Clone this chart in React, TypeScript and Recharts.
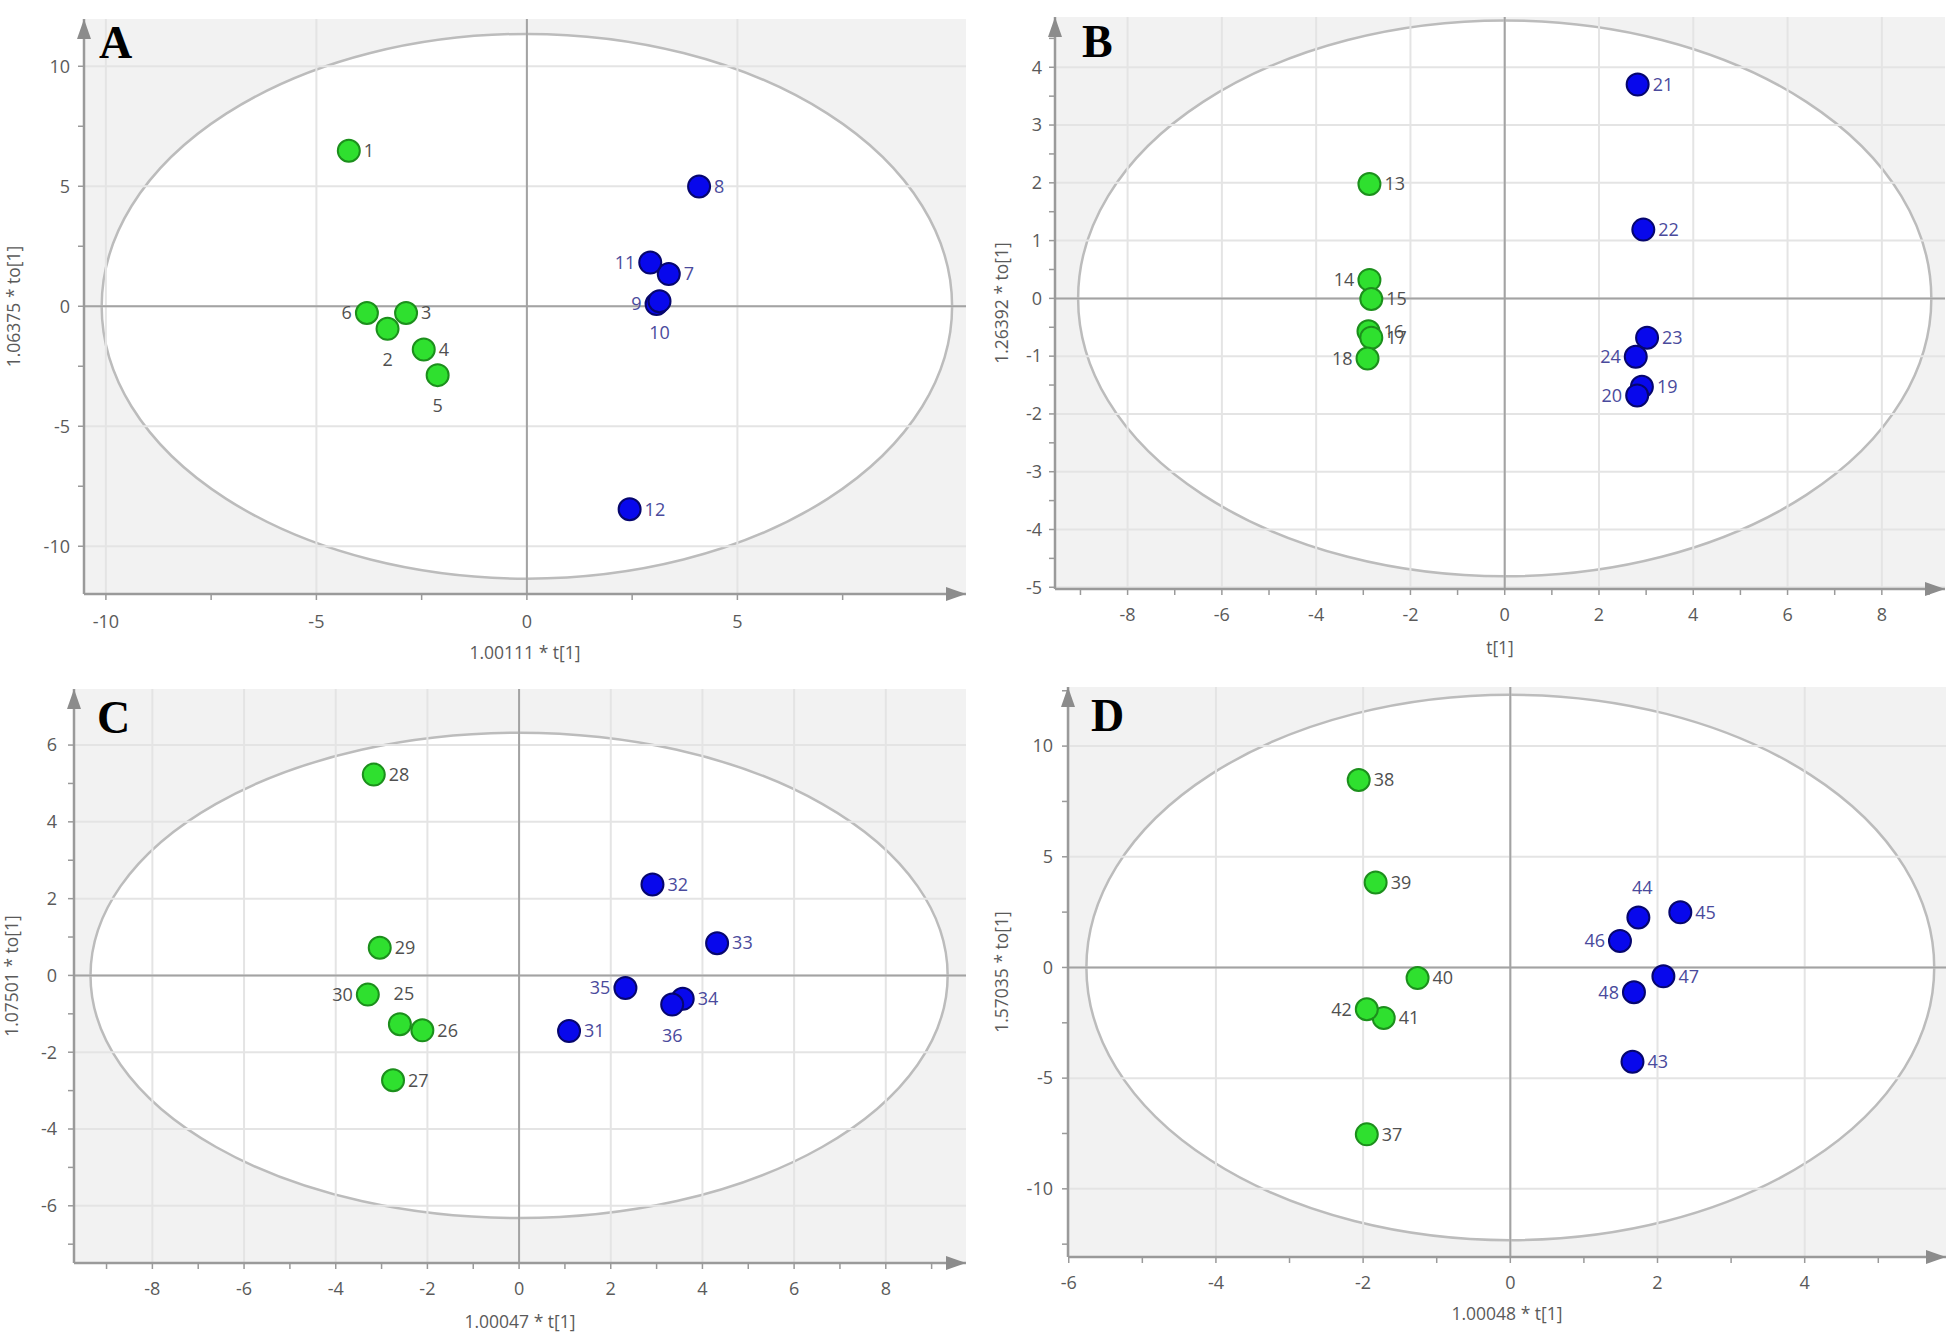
import React from 'react';
import { ScatterChart, Scatter, XAxis, YAxis, ReferenceArea, ReferenceLine, ReferenceDot } from 'recharts';

const FONT = '"Open Sans", "Noto Sans", sans-serif';

// ---------- Panel A ----------
const aLabels = ['1', '2', '3', '4', '5', '6', '7', '8', '9', '10', '11', '12'];
const aT = [-4.23, -3.31, -2.87, -2.45, -2.12, -3.8, 3.37, 4.09, 3.08, 3.15, 2.93, 2.44];
const aTo = [6.48, -0.94, -0.28, -1.8, -2.87, -0.28, 1.34, 4.99, 0.09, 0.21, 1.82, -8.46];
const aGroups = ['g', 'g', 'g', 'g', 'g', 'g', 'b', 'b', 'b', 'b', 'b', 'b'];
const aSides = ['r', 'b', 'r', 'r', 'b', 'l', 'r', 'r', 'l', 'b', 'l', 'r'];
const aXMajor = [-10, -5, 0, 5];
const aXMinor = [-7.5, -2.5, 2.5, 7.5];
const aYMajor = [-10, -5, 0, 5, 10];
const aYMinor = [-7.5, -2.5, 2.5, 7.5];
const aXDomain = [-10.52, 10.43];
const aYDomain = [-11.99, 11.97];
const aEllipse = [10.1, 11.35];
const aXTitle = '1.00111 * t[1]';
const aYTitle = '1.06375 * to[1]';

// ---------- Panel B ----------
const bLabels = ['13', '14', '15', '16', '17', '18', '19', '20', '21', '22', '23', '24'];
const bT = [-2.87, -2.87, -2.83, -2.89, -2.83, -2.91, 2.91, 2.81, 2.82, 2.94, 3.02, 2.78];
const bTo = [1.98, 0.32, -0.01, -0.57, -0.68, -1.04, -1.53, -1.68, 3.7, 1.19, -0.68, -1.01];
const bGroups = ['g', 'g', 'g', 'g', 'g', 'g', 'b', 'b', 'b', 'b', 'b', 'b'];
const bSides = ['r', 'l', 'r', 'r', 'r', 'l', 'r', 'l', 'r', 'r', 'r', 'l'];
const bXMajor = [-8, -6, -4, -2, 0, 2, 4, 6, 8];
const bXMinor = [-9, -7, -5, -3, -1, 1, 3, 5, 7, 9];
const bYMajor = [-5, -4, -3, -2, -1, 0, 1, 2, 3, 4];
const bYMinor = [-4.5, -3.5, -2.5, -1.5, -0.5, 0.5, 1.5, 2.5, 3.5, 4.5];
const bXDomain = [-9.54, 9.34];
const bYDomain = [-5.03, 4.87];
const bEllipse = [9.05, 4.81];
const bXTitle = 't[1]';
const bYTitle = '1.26392 * to[1]';

// ---------- Panel C ----------
const cLabels = ['25', '26', '27', '28', '29', '30', '31', '32', '33', '34', '35', '36'];
const cT = [-2.6, -2.11, -2.75, -3.17, -3.04, -3.3, 1.09, 2.91, 4.32, 3.57, 2.32, 3.34];
const cTo = [-1.27, -1.43, -2.73, 5.23, 0.72, -0.5, -1.45, 2.37, 0.84, -0.61, -0.33, -0.76];
const cGroups = ['g', 'g', 'g', 'g', 'g', 'g', 'b', 'b', 'b', 'b', 'b', 'b'];
const cSides = ['t', 'r', 'r', 'r', 'r', 'l', 'r', 'r', 'r', 'r', 'l', 'b'];
const cXMajor = [-8, -6, -4, -2, 0, 2, 4, 6, 8];
const cXMinor = [-9, -7, -5, -3, -1, 1, 3, 5, 7, 9];
const cYMajor = [-6, -4, -2, 0, 2, 4, 6];
const cYMinor = [-7, -5, -3, -1, 1, 3, 5, 7];
const cXDomain = [-9.71, 9.75];
const cYDomain = [-7.49, 7.46];
const cEllipse = [9.35, 6.32];
const cXTitle = '1.00047 * t[1]';
const cYTitle = '1.07501 * to[1]';

// ---------- Panel D ----------
const dLabels = ['37', '38', '39', '40', '41', '42', '43', '44', '45', '46', '47', '48'];
const dT = [-1.95, -2.06, -1.83, -1.26, -1.72, -1.95, 1.66, 1.74, 2.31, 1.49, 2.08, 1.68];
const dTo = [-7.54, 8.47, 3.84, -0.48, -2.28, -1.89, -4.26, 2.26, 2.49, 1.2, -0.4, -1.12];
const dGroups = ['g', 'g', 'g', 'g', 'g', 'g', 'b', 'b', 'b', 'b', 'b', 'b'];
const dSides = ['r', 'r', 'r', 'r', 'r', 'l', 'r', 't', 'r', 'l', 'r', 'l'];
const dXMajor = [-6, -4, -2, 0, 2, 4];
const dXMinor = [-5, -3, -1, 1, 3, 5];
const dYMajor = [-10, -5, 0, 5, 10];
const dYMinor = [-12.5, -7.5, -2.5, 2.5, 7.5, 12.5];
const dXDomain = [-6.01, 5.92];
const dYDomain = [-13.08, 12.67];
const dEllipse = [5.76, 12.32];
const dXTitle = '1.00048 * t[1]';
const dYTitle = '1.57035 * to[1]';

const panelLetters = ['A', 'B', 'C', 'D'];

const panels = [
  {
    labels: aLabels, t: aT, to: aTo, groups: aGroups, sides: aSides,
    xMajor: aXMajor, xMinor: aXMinor, yMajor: aYMajor, yMinor: aYMinor,
    xDomain: aXDomain, yDomain: aYDomain, ellipse: aEllipse, xTitle: aXTitle, yTitle: aYTitle,
    left: 0, top: 0, margin: { top: 19, right: 14, bottom: 0, left: 0 },
    yAxisWidth: 84, xAxisHeight: 76, xTickMargin: 22, yTickMargin: 8, xTitleOffset: 11, yTitleOffset: 14,
  },
  {
    labels: bLabels, t: bT, to: bTo, groups: bGroups, sides: bSides,
    xMajor: bXMajor, xMinor: bXMinor, yMajor: bYMajor, yMinor: bYMinor,
    xDomain: bXDomain, yDomain: bYDomain, ellipse: bEllipse, xTitle: bXTitle, yTitle: bYTitle,
    left: 980, top: 0, margin: { top: 17, right: 15, bottom: 0, left: 0 },
    yAxisWidth: 75, xAxisHeight: 81, xTickMargin: 20, yTickMargin: 7, xTitleOffset: 16, yTitleOffset: 22,
  },
  {
    labels: cLabels, t: cT, to: cTo, groups: cGroups, sides: cSides,
    xMajor: cXMajor, xMinor: cXMinor, yMajor: cYMajor, yMinor: cYMinor,
    xDomain: cXDomain, yDomain: cYDomain, ellipse: cEllipse, xTitle: cXTitle, yTitle: cYTitle,
    left: 0, top: 670, margin: { top: 19, right: 14, bottom: 0, left: 0 },
    yAxisWidth: 74, xAxisHeight: 77, xTickMargin: 20, yTickMargin: 11, xTitleOffset: 12, yTitleOffset: 12,
  },
  {
    labels: dLabels, t: dT, to: dTo, groups: dGroups, sides: dSides,
    xMajor: dXMajor, xMinor: dXMinor, yMajor: dYMajor, yMinor: dYMinor,
    xDomain: dXDomain, yDomain: dYDomain, ellipse: dEllipse, xTitle: dXTitle, yTitle: dYTitle,
    left: 980, top: 670, margin: { top: 17, right: 14, bottom: 0, left: 0 },
    yAxisWidth: 88, xAxisHeight: 83, xTickMargin: 20, yTickMargin: 9, xTitleOffset: 20, yTitleOffset: 22,
  },
];

const letterPos = [
  { x: 99, y: 58 },
  { x: 1082, y: 57 },
  { x: 97, y: 733 },
  { x: 1091, y: 731 },
];

const AXIS = '#9a9a9a';
const TEXT = '#5a5a5a';

const isIn = (arr: number[], v: number) => arr.some((m) => Math.abs(m - v) < 1e-9);

const makeTick = (major: number[], axis: 'x' | 'y') => (p: any) => {
  const v = p.payload?.value;
  if (!isIn(major, v)) return <g />;
  return (
    <text
      x={p.x}
      y={p.y}
      dy="0.35em"
      textAnchor={axis === 'x' ? 'middle' : 'end'}
      fill={TEXT}
      fontSize={18}
      fontFamily={FONT}
    >
      {String(v)}
    </text>
  );
};

const EllipseFill = (p: any) => (
  <ellipse
    cx={p.x + p.width / 2}
    cy={p.y + p.height / 2}
    rx={Math.abs(p.width) / 2}
    ry={Math.abs(p.height) / 2}
    fill="#ffffff"
    stroke="none"
  />
);

const EllipseStroke = (p: any) => (
  <ellipse
    cx={p.x + p.width / 2}
    cy={p.y + p.height / 2}
    rx={Math.abs(p.width) / 2}
    ry={Math.abs(p.height) / 2}
    fill="none"
    stroke="#bcbcbc"
    strokeWidth={2.5}
  />
);

const ArrowRight = (p: any) => (
  <polygon points={`${p.cx},${p.cy} ${p.cx - 20},${p.cy - 7} ${p.cx - 20},${p.cy + 7}`} fill="#8c8c8c" />
);

const ArrowUp = (p: any) => (
  <polygon points={`${p.cx},${p.cy} ${p.cx - 7},${p.cy + 20} ${p.cx + 7},${p.cy + 20}`} fill="#8c8c8c" />
);

const PointShape = (p: any) => {
  const { cx, cy, payload } = p;
  const green = payload.grp === 'g';
  const fill = green ? '#2fe02f' : '#0808ec';
  const stroke = green ? '#1c8f1c' : '#06066e';
  const lab = green ? '#505050' : '#4a4a9c';
  let tx = cx + 15;
  let ty = cy;
  let anchor: any = 'start';
  if (payload.side === 'l') {
    tx = cx - 15;
    anchor = 'end';
  } else if (payload.side === 'b') {
    tx = cx;
    ty = cy + 31;
    anchor = 'middle';
  } else if (payload.side === 't') {
    tx = cx + 4;
    ty = cy - 30;
    anchor = 'middle';
  }
  return (
    <g>
      <circle cx={cx} cy={cy} r={11} fill={fill} stroke={stroke} strokeWidth={2} />
      <text x={tx} y={ty} dy="0.35em" textAnchor={anchor} fill={lab} fontSize={18} fontFamily={FONT}>
        {payload.id}
      </text>
    </g>
  );
};

function Panel({ cfg }: { cfg: any }) {
  const pts = cfg.labels.map((id: string, i: number) => ({
    x: cfg.t[i],
    y: cfg.to[i],
    id,
    grp: cfg.groups[i],
    side: cfg.sides[i],
  }));
  const [x0, x1] = cfg.xDomain;
  const [y0, y1] = cfg.yDomain;
  const [ea, eb] = cfg.ellipse;
  const xTicks = [...cfg.xMajor, ...cfg.xMinor].sort((a, b) => a - b);
  const yTicks = [...cfg.yMajor, ...cfg.yMinor].sort((a, b) => a - b);
  return (
    <div style={{ position: 'absolute', left: cfg.left, top: cfg.top, width: 980, height: 670 }}>
      <ScatterChart width={980} height={670} margin={cfg.margin}>
        <XAxis
          type="number"
          dataKey="x"
          domain={cfg.xDomain}
          allowDataOverflow
          ticks={xTicks}
          interval={0}
          tickSize={6}
          tickMargin={cfg.xTickMargin}
          tick={makeTick(cfg.xMajor, 'x')}
          tickLine={{ stroke: AXIS, strokeWidth: 1.5 }}
          axisLine={{ stroke: AXIS, strokeWidth: 2.5 }}
          height={cfg.xAxisHeight}
          label={{
            value: cfg.xTitle,
            position: 'insideBottom',
            offset: cfg.xTitleOffset,
            fill: TEXT,
            fontSize: 17.5,
            fontFamily: FONT,
          }}
        />
        <YAxis
          type="number"
          dataKey="y"
          domain={cfg.yDomain}
          allowDataOverflow
          ticks={yTicks}
          interval={0}
          tickSize={6}
          tickMargin={cfg.yTickMargin}
          tick={makeTick(cfg.yMajor, 'y')}
          tickLine={{ stroke: AXIS, strokeWidth: 1.5 }}
          axisLine={{ stroke: AXIS, strokeWidth: 2.5 }}
          width={cfg.yAxisWidth}
          label={{
            value: cfg.yTitle,
            position: 'insideLeft',
            angle: -90,
            offset: cfg.yTitleOffset,
            fill: TEXT,
            fontSize: 17.5,
            fontFamily: FONT,
            style: { textAnchor: 'middle' },
          }}
        />
        <ReferenceArea x1={x0} x2={x1} y1={y0} y2={y1} ifOverflow="visible" fill="#f2f2f2" fillOpacity={1} stroke="none" />
        <ReferenceArea x1={-ea} x2={ea} y1={-eb} y2={eb} ifOverflow="visible" shape={EllipseFill} />
        {cfg.xMajor.map((v: number) => (
          <ReferenceLine key={'gx' + v} x={v} stroke="#e4e4e4" strokeWidth={2} />
        ))}
        {cfg.yMajor.map((v: number) => (
          <ReferenceLine key={'gy' + v} y={v} stroke="#e4e4e4" strokeWidth={2} />
        ))}
        <ReferenceArea x1={-ea} x2={ea} y1={-eb} y2={eb} ifOverflow="visible" shape={EllipseStroke} />
        <ReferenceLine x={0} stroke="#a3a3a3" strokeWidth={2} />
        <ReferenceLine y={0} stroke="#a3a3a3" strokeWidth={2} />
        <ReferenceDot x={x1} y={y0} r={1} ifOverflow="visible" shape={ArrowRight} />
        <ReferenceDot x={x0} y={y1} r={1} ifOverflow="visible" shape={ArrowUp} />
        <Scatter data={pts} shape={PointShape} isAnimationActive={false} />
      </ScatterChart>
    </div>
  );
}

export default function App() {
  return (
    <div style={{ position: 'absolute', left: 0, top: 0, width: 1960, height: 1341, background: '#ffffff' }}>
      {panels.map((cfg, i) => (
        <Panel key={i} cfg={cfg} />
      ))}
      <svg
        width={1960}
        height={1341}
        style={{ position: 'absolute', left: 0, top: 0, pointerEvents: 'none' }}
      >
        {panelLetters.map((l, i) => (
          <text
            key={l}
            x={letterPos[i].x}
            y={letterPos[i].y}
            fontFamily='"Liberation Serif", "Times New Roman", serif'
            fontWeight="bold"
            fontSize={46}
            fill="#000"
          >
            {l}
          </text>
        ))}
      </svg>
    </div>
  );
}
